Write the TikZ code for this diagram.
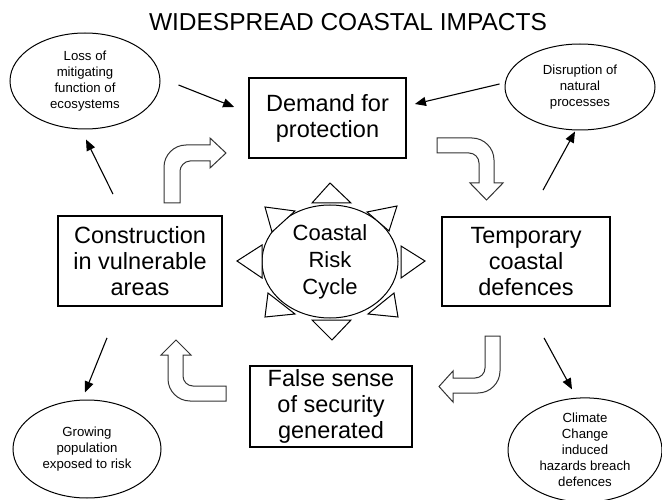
\documentclass[tikz,border=0pt]{standalone}
\usepackage{fontspec}
\setmainfont{Liberation Sans}
\usetikzlibrary{shapes.geometric,arrows.meta}
\begin{document}
\begin{tikzpicture}[x=1pt,y=-1pt,
  stage/.style={draw, line width=1.8pt, inner sep=0pt, align=center,
    font=\fontsize{23.5}{26}\selectfont},
  impact/.style={draw, ellipse, line width=1pt, inner sep=0pt, align=center,
    font=\fontsize{13.2}{16}\selectfont},
  hub/.style={draw, ellipse, line width=1pt, inner sep=0pt, align=center,
    font=\fontsize{22}{27}\selectfont},
  link/.style={line width=1.1pt, -{Triangle[length=11pt,width=9pt]}},
  bent/.style={draw=black!80, line width=1pt, fill=white, line join=miter},
  spike/.style={draw, line width=1pt, fill=white, line join=miter},
]
\useasboundingbox (0,0) rectangle (662,500);

% heading
\node[font=\fontsize{24.5}{28}\selectfont] (title) at (348,22) {WIDESPREAD COASTAL IMPACTS};

% the four stages of the cycle
\node[stage, minimum width=157pt, minimum height=80pt] (demand) at (327.5,118) {Demand for\\protection};
\node[stage, minimum width=164pt, minimum height=90pt] (constr) at (140,261) {Construction\\in vulnerable\\areas};
\node[stage, minimum width=168pt, minimum height=89pt] (temp) at (526,261.5) {Temporary\\coastal\\defences};
\node[stage, minimum width=162pt, minimum height=81pt] (false) at (331,406.5) {False sense\\of security\\generated};

% wider impacts
\node[impact, minimum width=150pt, minimum height=96pt] (loss) at (85,81) {Loss of\\mitigating\\function of\\ecosystems};
\node[impact, minimum width=150pt, minimum height=86pt] (disrupt) at (580,87) {Disruption of\\natural\\processes};
\node[impact, minimum width=148pt, minimum height=98pt] (growing) at (87,449) {Growing\\population\\exposed to risk};
\node[impact, minimum width=154pt, minimum height=100pt] (climate) at (585,450) {Climate\\Change\\induced\\hazards breach\\defences};

% central sun
\node[hub, minimum width=136pt, minimum height=113pt] (cycle) at (330,261.5) {Coastal\\Risk\\Cycle};
\draw[spike] (330,183) -- (351,203) -- (312,203) -- cycle;
\draw[spike] (332,340) -- (351,320) -- (312,320) -- cycle;
\draw[spike] (237,261) -- (262,245) -- (262,278) -- cycle;
\draw[spike] (425,261) -- (401,246) -- (401,278) -- cycle;
\draw[spike] (265,207) -- (295,211) -- (272,232) -- cycle;
\draw[spike] (397,206) -- (367,212) -- (389,231) -- cycle;
\draw[spike] (265,317) -- (295,314) -- (268,293) -- cycle;
\draw[spike] (398,317) -- (368,314) -- (394,293) -- cycle;

% bent block arrows turning the cycle clockwise
\path[bent] (164,203) -- (164,167) .. controls (164,155) and (174,145) .. (186,145)
  -- (210,145) -- (210,138) -- (226,153) -- (210,168) -- (210,161) -- (190,161)
  .. controls (184.5,161) and (180,166.5) .. (180,171) -- (180,203) -- cycle;
\path[bent] (437,138) -- (472,138) .. controls (484,138) and (494,148) .. (494,160)
  -- (494,183) -- (503,183) -- (486.5,200) -- (470,183) -- (479,183) -- (479,163)
  .. controls (479,157.5) and (474.5,153) .. (469,153) -- (437,153) -- cycle;
\path[bent] (485,336) -- (500,336) -- (500,371) .. controls (500,383) and (490,393) .. (478,393)
  -- (453,393) -- (453,402) -- (439,386.5) -- (453,371) -- (453,378) -- (475,378)
  .. controls (480.5,378) and (485,373.5) .. (485,368) -- cycle;
\path[bent] (226,386) -- (226,401) -- (190,401) .. controls (178,401) and (168,391) .. (168,379)
  -- (168,355) -- (161,355) -- (176,340) -- (191,355) -- (183,355) -- (183,376)
  .. controls (183,381.5) and (187.5,386) .. (193,386) -- cycle;

% influence arrows
\draw[link] ([xshift=18pt,yshift=-4pt]loss.east) -- ([xshift=-14pt,yshift=11pt]demand.west);
\draw[link] ([xshift=-5pt,yshift=3pt]disrupt.west) -- ([xshift=8pt,yshift=14pt]demand.east);
\draw[link] ([xshift=-27pt,yshift=21pt]constr.north) -- ([xshift=1pt,yshift=-10pt]loss.south);
\draw[link] ([xshift=17pt,yshift=26pt]temp.north) -- ([xshift=-5pt,yshift=-1pt]disrupt.south);
\draw[link] ([xshift=-33pt,yshift=-31pt]constr.south) -- ([xshift=-2pt,yshift=7pt]growing.north);
\draw[link] ([xshift=18pt,yshift=-31pt]temp.south) -- ([xshift=-13pt,yshift=8pt]climate.north);
\end{tikzpicture}
\end{document}
